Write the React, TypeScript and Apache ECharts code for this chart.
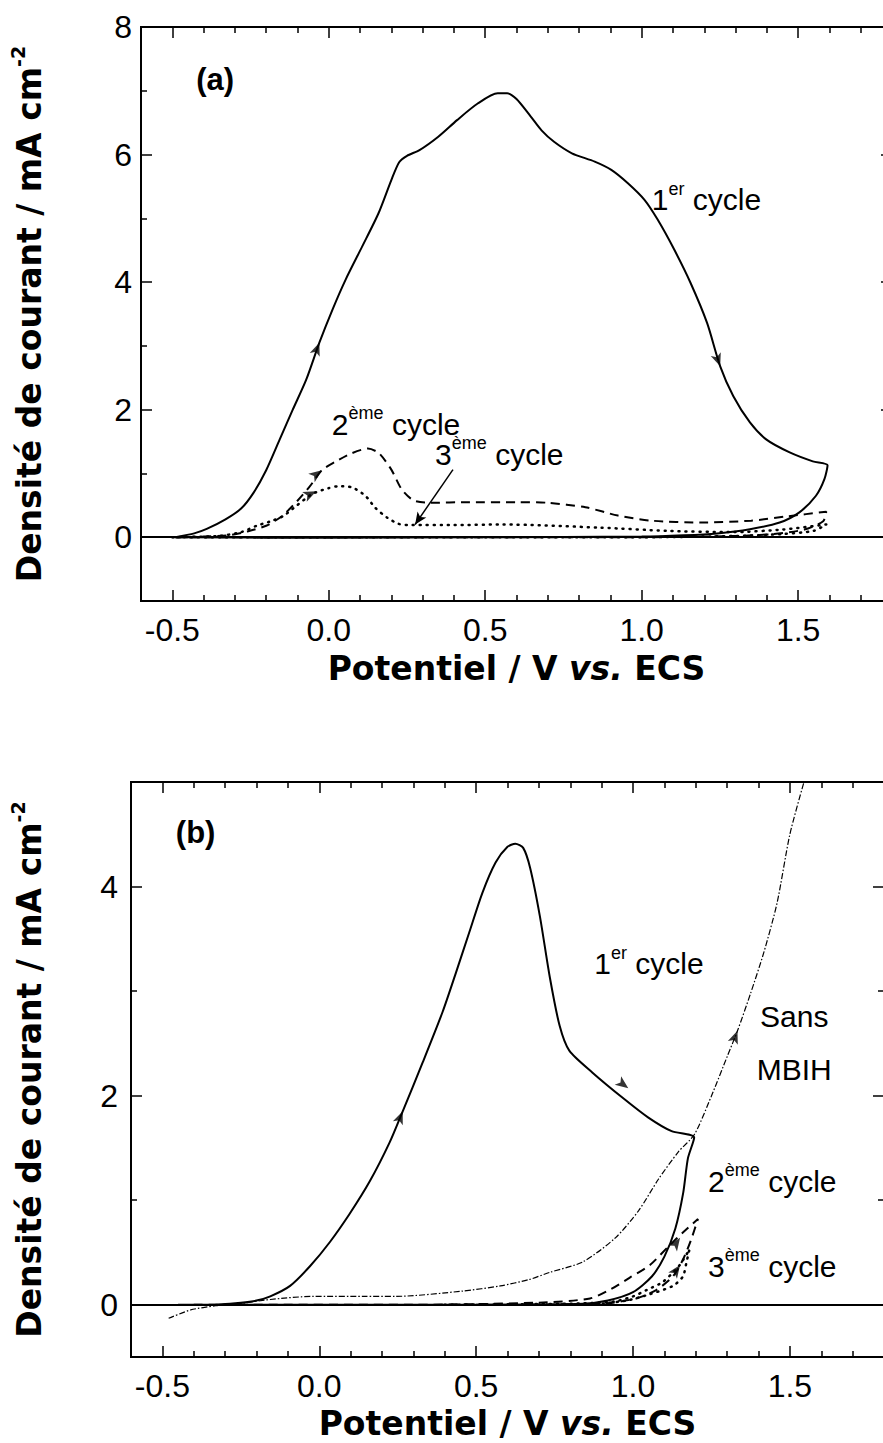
import React, { useEffect, useRef } from 'react';
import * as echarts from 'echarts';

// ---------- tick values ----------
const xMajorTicks = [-0.5, 0, 0.5, 1.0, 1.5];
const xMinorTicks = [-0.4, -0.3, -0.2, -0.1, 0.1, 0.2, 0.3, 0.4, 0.6, 0.7, 0.8, 0.9, 1.1, 1.2, 1.3, 1.4, 1.6, 1.7];
const yMajorTicksA = [0, 2, 4, 6, 8];
const yMinorTicksA = [1, 3, 5, 7];
const yMajorTicksB = [0, 2, 4];
const yMinorTicksB = [1, 3];

// ---------- (a) data: potential (V) , current density (mA cm-2) ----------
const cycle1A: [number, number][] = [
  [-0.49, 0.0], [-0.43, 0.06], [-0.39, 0.13], [-0.33, 0.28], [-0.28, 0.45], [-0.24, 0.7], [-0.2, 1.05],
  [-0.157, 1.53], [-0.115, 2.0], [-0.072, 2.47], [-0.03, 3.05], [0.012, 3.57], [0.054, 4.04], [0.107, 4.56],
  [0.159, 5.08], [0.2, 5.6], [0.225, 5.88], [0.25, 5.98], [0.29, 6.07], [0.35, 6.28], [0.41, 6.54],
  [0.476, 6.8], [0.54, 6.96], [0.57, 6.96], [0.6, 6.87], [0.645, 6.6], [0.68, 6.38], [0.72, 6.2],
  [0.777, 6.02], [0.85, 5.89], [0.903, 5.76], [0.956, 5.55], [1.009, 5.29], [1.051, 4.98], [1.104, 4.51],
  [1.156, 3.99], [1.209, 3.36], [1.251, 2.68], [1.293, 2.21], [1.346, 1.8], [1.399, 1.53], [1.473, 1.33],
  [1.547, 1.19], [1.594, 1.13],
  [1.584, 0.91], [1.557, 0.65], [1.504, 0.39], [1.441, 0.23], [1.346, 0.125], [1.241, 0.06], [1.135, 0.03],
  [1.0, 0.01], [0.5, 0.0], [0.0, -0.01], [-0.49, 0.0],
];
const cycle2A: [number, number][] = [
  [-0.5, 0.0], [-0.4, 0.01], [-0.32, 0.03], [-0.26, 0.09], [-0.2, 0.18], [-0.15, 0.33], [-0.104, 0.55],
  [-0.06, 0.8], [-0.022, 1.05], [0.02, 1.18], [0.07, 1.31], [0.125, 1.39], [0.16, 1.32], [0.2, 1.06],
  [0.233, 0.75], [0.27, 0.58], [0.32, 0.54], [0.45, 0.55], [0.6, 0.55], [0.7, 0.54], [0.82, 0.47],
  [0.924, 0.34], [1.03, 0.26], [1.19, 0.23], [1.35, 0.26], [1.47, 0.33], [1.59, 0.4],
  [1.58, 0.25], [1.52, 0.12], [1.42, 0.05], [1.3, 0.02], [1.0, 0.0], [0.0, 0.0], [-0.5, 0.0],
];
const cycle3A: [number, number][] = [
  [-0.5, 0.0], [-0.35, 0.02], [-0.28, 0.08], [-0.23, 0.18], [-0.18, 0.26], [-0.146, 0.33], [-0.104, 0.49],
  [-0.052, 0.68], [0.0, 0.77], [0.033, 0.8], [0.075, 0.78], [0.117, 0.65], [0.149, 0.46], [0.186, 0.31],
  [0.223, 0.21], [0.265, 0.19], [0.4, 0.19], [0.555, 0.2], [0.87, 0.15], [1.08, 0.1], [1.29, 0.08],
  [1.45, 0.12], [1.59, 0.2],
  [1.55, 0.1], [1.45, 0.05], [1.3, 0.02], [1.0, 0.0], [-0.5, 0.0],
];

// ---------- (b) data ----------
const cycle1B: [number, number][] = [
  [-0.45, 0.0], [-0.35, 0.0], [-0.25, 0.02], [-0.2, 0.04], [-0.156, 0.08], [-0.093, 0.18], [-0.029, 0.37],
  [0.034, 0.6], [0.097, 0.87], [0.161, 1.18], [0.224, 1.55], [0.266, 1.85], [0.33, 2.32], [0.393, 2.8],
  [0.435, 3.17], [0.478, 3.56], [0.52, 3.94], [0.562, 4.23], [0.6, 4.38], [0.625, 4.41], [0.65, 4.37],
  [0.672, 4.18], [0.703, 3.72], [0.735, 3.13], [0.766, 2.67], [0.797, 2.43], [0.871, 2.22], [0.971, 1.97],
  [1.049, 1.79], [1.123, 1.66], [1.195, 1.6],
  [1.175, 1.4], [1.16, 1.07], [1.135, 0.73], [1.1, 0.46], [1.06, 0.27], [1.0, 0.12], [0.92, 0.04],
  [0.84, 0.01], [0.5, 0.0], [0.0, 0.0], [-0.45, 0.0],
];
const sansMBIH: [number, number][] = [
  [-0.48, -0.13], [-0.41, -0.05], [-0.33, -0.01], [-0.28, 0.0], [-0.156, 0.05], [-0.02, 0.08], [0.14, 0.08],
  [0.245, 0.08], [0.456, 0.13], [0.577, 0.18], [0.668, 0.24], [0.735, 0.31], [0.84, 0.41], [0.944, 0.64],
  [1.018, 0.9], [1.081, 1.2], [1.144, 1.46], [1.196, 1.63], [1.249, 1.99], [1.301, 2.38], [1.333, 2.62],
  [1.375, 2.98], [1.417, 3.37], [1.459, 3.84], [1.5, 4.5], [1.545, 5.0],
];
const cycle2B: [number, number][] = [
  [-0.4, 0.0], [0.3, 0.0], [0.7, 0.02], [0.863, 0.06], [0.93, 0.15], [0.99, 0.26], [1.054, 0.38],
  [1.117, 0.57], [1.159, 0.69], [1.207, 0.82],
  [1.185, 0.62], [1.159, 0.43], [1.127, 0.27], [1.074, 0.14], [1.01, 0.06], [0.9, 0.01], [0.5, 0.0],
];
const cycle3B: [number, number][] = [
  [0.4, 0.0], [0.8, 0.01], [0.937, 0.03], [1.0, 0.08], [1.043, 0.14], [1.096, 0.22], [1.149, 0.38],
  [1.18, 0.53],
  [1.17, 0.4], [1.159, 0.27], [1.127, 0.18], [1.053, 0.1], [0.98, 0.04], [0.9, 0.01],
];

// ---------- annotations ----------
const labelsA = [
  { text: '{p|(a)}', x: -0.363, y: 7.17 },
  { text: '{t|1}{s|er}{t| cycle}', x: 1.207, y: 5.29 },
  { text: '{t|2}{s|ème}{t| cycle}', x: 0.215, y: 1.77 },
  { text: '{t|3}{s|ème}{t| cycle}', x: 0.545, y: 1.3 },
];
const pointerA = { from: [0.397, 1.06], to: [0.276, 0.2] };
const arrowsA = [
  { x: -0.03, y: 3.05, rot: -21 },
  { x: 1.251, y: 2.68, rot: -160 },
  { x: -0.022, y: 1.05, rot: -53 },
  { x: -0.04, y: 0.72, rot: -65 },
];
const labelsB = [
  { text: '{p|(b)}', x: -0.394, y: 4.52 },
  { text: '{t|1}{s|er}{t| cycle}', x: 1.051, y: 3.26 },
  { text: '{t|Sans}', x: 1.514, y: 2.76 },
  { text: '{t|MBIH}', x: 1.514, y: 2.25 },
  { text: '{t|2}{s|ème}{t| cycle}', x: 1.444, y: 1.18 },
  { text: '{t|3}{s|ème}{t| cycle}', x: 1.444, y: 0.37 },
];
const arrowsB = [
  { x: 0.266, y: 1.85, rot: -22 },
  { x: 0.985, y: 2.07, rot: -127 },
  { x: 1.333, y: 2.62, rot: -21 },
  { x: 1.15, y: 0.64, rot: -35 },
  { x: 1.15, y: 0.38, rot: -35 },
];

const FONT = "'Liberation Sans', Arial, Helvetica, sans-serif";
const TITLE_FONT = "'DejaVu Sans', 'Liberation Sans', sans-serif";

const annRich = {
  t: { fontSize: 30, fontFamily: FONT, color: '#000', lineHeight: 40 },
  s: { fontSize: 18, fontFamily: FONT, color: '#000', lineHeight: 14, verticalAlign: 'top' },
  p: { fontSize: 31, fontWeight: 'bold', fontFamily: FONT, color: '#000', lineHeight: 40 },
};
const yNameRich = {
  b: { fontSize: 33, fontWeight: 'bold', fontFamily: TITLE_FONT, color: '#000', lineHeight: 42 },
  s: { fontSize: 19, fontWeight: 'bold', fontFamily: TITLE_FONT, color: '#000', lineHeight: 16, verticalAlign: 'top' },
};
const xNameRich = {
  b: { fontSize: 33, fontWeight: 'bold', fontFamily: TITLE_FONT, color: '#000', lineHeight: 30 },
  i: { fontSize: 33, fontWeight: 'bold', fontStyle: 'italic', fontFamily: TITLE_FONT, color: '#000', lineHeight: 30 },
};

function makeAxes(
  dim: 'x' | 'y', gridIndex: number, min: number, max: number,
  major: number[], minor: number[], labelMargin: number, nameGap: number,
) {
  const pos = dim === 'x' ? ['bottom', 'top'] : ['left', 'right'];
  const base = (position: string, ticks: number[], len: number) => ({
    type: 'value', gridIndex, min, max, position,
    axisLine: { show: true, onZero: false, lineStyle: { color: '#000', width: 2 } },
    axisTick: { show: true, inside: true, length: len, customValues: ticks, lineStyle: { color: '#000', width: 1.5 } },
    axisLabel: { show: false },
    splitLine: { show: false },
  });
  const labeled: any = base(pos[0], major, 11);
  labeled.axisLabel = {
    show: true, customValues: major, margin: labelMargin,
    fontSize: 32, lineHeight: 28, fontFamily: FONT, color: '#000',
    formatter: (v: number) => (dim === 'x' ? v.toFixed(1) : String(v)),
  };
  labeled.nameLocation = 'middle';
  labeled.nameGap = nameGap;
  if (dim === 'x') {
    labeled.name = '{b|Potentiel / V }{i|vs.}{b| ECS}';
    labeled.nameTextStyle = { rich: xNameRich, fontSize: 33, fontWeight: 'bold', fontFamily: TITLE_FONT, color: '#000', lineHeight: 30 };
  } else {
    labeled.name = '{b|Densité de courant / mA cm}{s|-2}';
    labeled.nameRotate = 90;
    labeled.nameTextStyle = { rich: yNameRich, fontSize: 33, fontWeight: 'bold', fontFamily: TITLE_FONT, color: '#000' };
  }
  return [base(pos[0], minor, 6), labeled, base(pos[1], minor, 6), base(pos[1], major, 11)];
}

function lineSeries(data: [number, number][], idx: number, style: any, extra: any = {}) {
  return {
    type: 'line', xAxisIndex: idx, yAxisIndex: idx, data, showSymbol: false, symbol: 'none',
    smooth: 0.25, silent: true, lineStyle: { color: '#000', ...style }, z: 3, ...extra,
  };
}

const zeroLine = {
  silent: true, symbol: ['none', 'none'], label: { show: false },
  lineStyle: { type: 'solid', color: '#000', width: 2 }, data: [{ yAxis: 0 }],
};

function labelSeries(labels: { text: string; x: number; y: number }[], idx: number, extra: any = {}) {
  return {
    type: 'scatter', xAxisIndex: idx, yAxisIndex: idx, silent: true, symbolSize: 1,
    itemStyle: { color: 'rgba(0,0,0,0)' },
    data: labels.map((l) => ({ value: [l.x, l.y], name: l.text })),
    label: {
      show: true, position: [0.5, 0.5], align: 'center', verticalAlign: 'middle',
      formatter: (p: any) => p.name, rich: annRich, color: '#000', opacity: 1,
    },
    labelLayout: { hideOverlap: false },
    z: 5, ...extra,
  };
}

function arrowSeries(arrows: { x: number; y: number; rot: number }[], idx: number) {
  return {
    type: 'scatter', xAxisIndex: idx, yAxisIndex: idx, silent: true, symbol: 'arrow', symbolSize: [8, 13],
    itemStyle: { color: '#000' },
    data: arrows.map((a) => ({ value: [a.x, a.y], symbolRotate: a.rot })),
    z: 6,
  };
}

const DASH = { width: 2, type: [9, 6] };
const DOT = { width: 2.5, type: [1, 6], cap: 'round' };
const SOLID = { width: 2, type: 'solid' };
const DASHDOT = { width: 1.2, type: [6, 2, 1.5, 2] };

const option: any = {
  animation: false,
  backgroundColor: '#fff',
  grid: [
    { left: 135, top: 27, width: 757, height: 574, containLabel: false },
    { left: 125, top: 782, width: 759, height: 575, containLabel: false },
  ],
  xAxis: [
    ...makeAxes('x', 0, -0.6, 1.8, xMajorTicks, xMinorTicks, 15, 52),
    ...makeAxes('x', 1, -0.6, 1.8, xMajorTicks, xMinorTicks, 15, 51),
  ],
  yAxis: [
    ...makeAxes('y', 0, -1, 8, yMajorTicksA, yMinorTicksA, 9, 91),
    ...makeAxes('y', 1, -0.5, 5, yMajorTicksB, yMinorTicksB, 13, 81),
  ],
  series: [
    lineSeries(cycle1A, 1, SOLID, { markLine: zeroLine }),
    lineSeries(cycle2A, 1, DASH),
    lineSeries(cycle3A, 1, DOT),
    labelSeries(labelsA, 1, {
      markLine: {
        silent: true, symbol: ['none', 'arrow'], symbolSize: [8, 12], label: { show: false },
        lineStyle: { type: 'solid', color: '#000', width: 1.5 },
        data: [[{ coord: pointerA.from }, { coord: pointerA.to }]],
      },
    }),
    arrowSeries(arrowsA, 1),
    lineSeries(cycle1B, 5, SOLID, { markLine: zeroLine }),
    lineSeries(sansMBIH, 5, DASHDOT),
    lineSeries(cycle2B, 5, DASH),
    lineSeries(cycle3B, 5, DOT),
    labelSeries(labelsB, 5),
    arrowSeries(arrowsB, 5),
  ],
};

export default function App() {
  const ref = useRef<HTMLDivElement>(null);
  useEffect(() => {
    const chart = echarts.init(ref.current!, undefined, { renderer: 'svg' });
    chart.setOption(option);
    return () => chart.dispose();
  }, []);
  return (
    <div style={{ position: 'absolute', left: 0, top: 0, width: 883, height: 1443, overflow: 'hidden', background: '#fff' }}>
      <div ref={ref} style={{ width: 900, height: 1443 }} />
    </div>
  );
}
